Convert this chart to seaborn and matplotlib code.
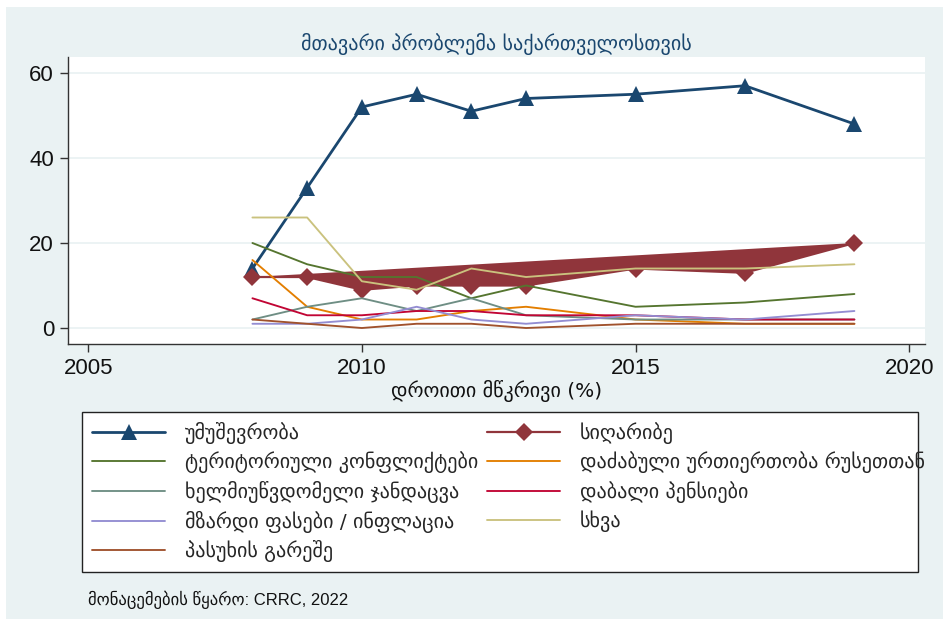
import numpy as np
import pandas as pd
from matplotlib import pyplot as plt
from matplotlib.patches import Rectangle
import seaborn as sns

years = [2008, 2009, 2010, 2011, 2012, 2013, 2015, 2017, 2019]

unemployment = [14, 33, 52, 55, 51, 54, 55, 57, 48]
poverty = [12, 12, 9, 10, 10, 10, 14, 13, 20]
territorial = [20, 15, 12, 12, 7, 10, 5, 6, 8]
russia = [16, 5, 2, 2, 4, 5, 2, 1, 1]
healthcare = [2, 5, 7, 4, 7, 3, 2, 2, 2]
pensions = [7, 3, 3, 4, 4, 3, 3, 2, 2]
prices = [1, 1, 2, 5, 2, 1, 3, 2, 4]
other = [26, 26, 11, 9, 14, 12, 14, 14, 15]
no_answer = [2, 1, 0, 1, 1, 0, 1, 1, 1]

labels = [
    'უმუშევრობა', 'სიღარიბე', 'ტერიტორიული კონფლიქტები',
    'დაძაბული ურთიერთობა რუსეთთან', 'ხელმიუწვდომელი ჯანდაცვა',
    'დაბალი პენსიები', 'მზარდი ფასები / ინფლაცია', 'სხვა', 'პასუხის გარეშე',
]
series = [unemployment, poverty, territorial, russia, healthcare,
          pensions, prices, other, no_answer]
colors = ['#1a476f', '#90353b', '#55752f', '#e37e00', '#6e8e84',
          '#c10534', '#938dd2', '#cac27e', '#a0522d']

title = 'მთავარი პრობლემა საქართველოსთვის'
xlabel = 'დროითი მწკრივი (%)'
source = 'მონაცემების წყარო: CRRC, 2022'
xticks = [2005, 2010, 2015, 2020]
yticks = [0, 20, 40, 60]

sns.set_theme(style='white')
plt.rcParams['font.family'] = ['Liberation Sans', 'DejaVu Sans']
geo = ['DejaVu Sans']
bg = '#eaf2f3'

W, H = 946, 619
fig = plt.figure(figsize=(W / 100, H / 100), dpi=100, facecolor='white')
fig.patches.append(Rectangle((6 / W, 0), 937 / W, 1 - 7 / H,
                             transform=fig.transFigure, facecolor=bg,
                             edgecolor='none', zorder=-10))

ax = fig.add_axes([68 / W, 1 - 344 / H, 857 / W, 287 / H])
ax.set_facecolor('white')

# poverty series is rendered with a filled polygon in the original
ax.fill(years, poverty, color=colors[1], lw=0, zorder=1)

for i, (lab, vals) in enumerate(zip(labels, series)):
    kw = dict(lw=1.35)
    if i == 0:
        kw = dict(lw=2.0, marker='^', markersize=12, markeredgewidth=0)
    elif i == 1:
        kw = dict(lw=1.6, marker='D', markersize=9, markeredgewidth=0)
    sns.lineplot(x=years, y=vals, ax=ax, color=colors[i], label=lab,
                 zorder=2 + i, **kw)

handles, labs = ax.get_legend_handles_labels()
ax.get_legend().remove()

ax.set_xlim(2004.63, 2020.29)
ax.set_ylim(-3.76, 63.76)
ax.set_xticks(xticks)
ax.set_yticks(yticks)
ax.tick_params(axis='both', labelsize=16, length=6, width=1, color='#333333',
               direction='out', pad=4, labelcolor='#111111')
ax.tick_params(axis='both', which='both', left=True, bottom=True)
for s in ['top', 'right']:
    ax.spines[s].set_visible(False)
for s in ['left', 'bottom']:
    ax.spines[s].set_color('#333333')
    ax.spines[s].set_linewidth(1)
for y in yticks:
    ax.axhline(y, color=bg, lw=1.3, zorder=0)
ax.set_xlabel(xlabel, fontsize=14.5, family=geo, color='#111111', labelpad=1)
ax.set_ylabel('')

fig.text(496 / W, 1 - 44 / H, title, ha='center', va='center',
         fontsize=14.5, family=geo, color='#1a476f')

fig.patches.append(Rectangle((82 / W, 1 - 572 / H), 836 / W, 160 / H,
                             transform=fig.transFigure, facecolor='white',
                             edgecolor='#222222', lw=1, zorder=1))

leg_kw = dict(loc='upper left', frameon=False, borderpad=0, borderaxespad=0,
              handlelength=3.63, handletextpad=1.0, labelspacing=0.38,
              prop={'family': geo, 'size': 14.5}, numpoints=1)
col1 = [0, 2, 4, 6, 8]
col2 = [1, 3, 5, 7]
l1 = fig.legend([handles[i] for i in col1], [labs[i] for i in col1],
                bbox_to_anchor=(92 / W, 1 - 422 / H), **leg_kw)
l2 = fig.legend([handles[i] for i in col2], [labs[i] for i in col2],
                bbox_to_anchor=(487 / W, 1 - 422 / H), **leg_kw)
for l in (l1, l2):
    l.set_zorder(5)

fig.text(88 / W, 1 - 600 / H, source, ha='left', va='center',
         fontsize=12, color='#111111')

fig.savefig('out.png', dpi=100, facecolor='white')
